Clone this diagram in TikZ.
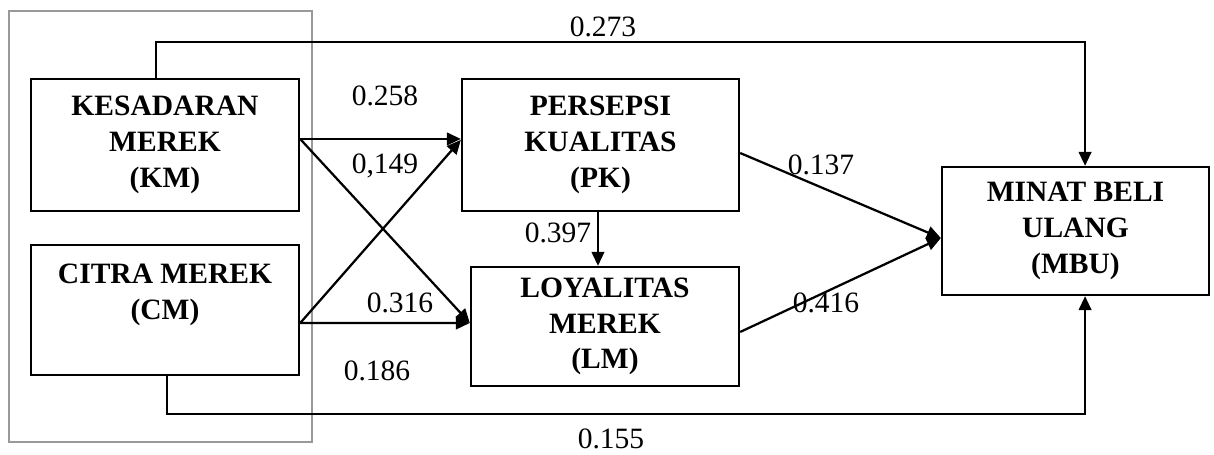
\documentclass[tikz,border=0pt]{standalone}
\usepackage{fontspec}
\setmainfont{Liberation Serif}
\usetikzlibrary{arrows.meta}

\begin{document}
\begin{tikzpicture}[x=0.025cm,y=-0.025cm,
  varbox/.style={draw,line width=1.6pt,align=center,inner sep=0pt,
    font=\fontsize{21}{25.5}\selectfont\bfseries},
  path/.style={line width=1.6pt,-{Triangle[length=10pt,width=9pt]}},
  coef/.style={font=\fontsize{21}{25}\selectfont,inner sep=1pt}]
\useasboundingbox (0,0) rectangle (1214,454);
\draw[gray!80,line width=0.8pt] (9,11) rectangle (312,442);
% variables
\node[varbox,minimum width=6.7cm,minimum height=3.3cm] (KM) at (165,145) {KESADARAN\\MEREK\\(KM)};
\node[varbox,minimum width=6.7cm,minimum height=3.25cm] (CM) at (165,310) {CITRA MEREK\\(CM)\\\mbox{}};
\node[varbox,minimum width=6.925cm,minimum height=3.3cm] (PK) at (600.5,145) {PERSEPSI\\KUALITAS\\(PK)};
\node[varbox,minimum width=6.7cm,minimum height=2.975cm] (LM) at (605,326.5) {LOYALITAS\\MEREK\\(LM)};
\node[varbox,minimum width=6.675cm,minimum height=3.2cm] (MBU) at (1075.5,231) {MINAT BELI\\ULANG\\(MBU)};
% paths
\draw[path] ([yshift=4.3pt]KM.east) -- ([yshift=4.3pt]PK.west);
\draw[path] ([yshift=4.3pt]KM.east) -- ([yshift=2.5pt]LM.west);
\draw[path] ([yshift=-9.3pt]CM.east) -- ([yshift=3.6pt]PK.west);
\draw[path] ([yshift=-9.3pt]CM.east) -- ([yshift=2.5pt]LM.west);
\draw[path] ([xshift=-1.8pt]PK.south) -- ([xshift=-1.8pt]PK.south |- LM.north);
\draw[path] ([yshift=-5.7pt]PK.east) -- ([yshift=-5pt]MBU.west);
\draw[path] ([yshift=-3.9pt]LM.east) -- ([yshift=-5pt]MBU.west);
\draw[path] ([xshift=-6.4pt]KM.north) -- ++(0,-36) -| ([xshift=6.8pt]MBU.north);
\draw[path] ([xshift=1.4pt]CM.south) -- ++(0,38) -| ([xshift=6.8pt]MBU.south);
% coefficients
\node[coef] (c273) at (603,27) {0.273};
\node[coef] (c258) at (385,96) {0.258};
\node[coef] (c149) at (385,166) {0,149};
\node[coef] (c316) at (400,303) {0.316};
\node[coef] (c186) at (377,371) {0.186};
\node[coef] (c397) at (558,233) {0.397};
\node[coef] (c137) at (821,165) {0.137};
\node[coef] (c416) at (826,303) {0.416};
\node[coef] (c155) at (611,439) {0.155};
\end{tikzpicture}
\end{document}
